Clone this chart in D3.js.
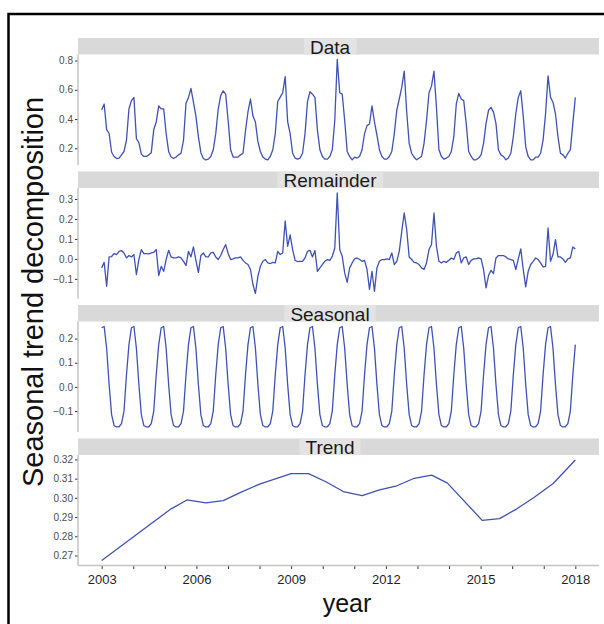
<!DOCTYPE html>
<html>
<head>
<meta charset="utf-8">
<script src="https://cdn.jsdelivr.net/npm/d3@7"></script>
<style>
  body { margin: 0; background: #fff; }
  svg { display: block; font-family: "Liberation Sans", Arial, sans-serif; }
</style>
</head>
<body>
<svg id="chart" width="604" height="624"></svg>
<script>
// monthly series, first point at 2003, last at 2018
const startYear = 2003;
const endYear = 2018;

const dataValues = [
  0.463, 0.503, 0.328, 0.301, 0.173, 0.144, 0.130, 0.133, 0.155, 0.178, 0.256, 0.470,
  0.526, 0.548, 0.267, 0.238, 0.160, 0.144, 0.144, 0.155, 0.170, 0.328, 0.380, 0.490,
  0.470, 0.470, 0.300, 0.178, 0.140, 0.130, 0.140, 0.155, 0.166, 0.256, 0.508, 0.548,
  0.609, 0.515, 0.420, 0.280, 0.170, 0.130, 0.120, 0.126, 0.144, 0.190, 0.300, 0.470,
  0.560, 0.593, 0.570, 0.390, 0.190, 0.140, 0.140, 0.140, 0.155, 0.166, 0.320, 0.450,
  0.537, 0.420, 0.380, 0.245, 0.178, 0.140, 0.126, 0.121, 0.144, 0.190, 0.300, 0.520,
  0.550, 0.580, 0.690, 0.380, 0.300, 0.166, 0.133, 0.126, 0.133, 0.166, 0.300, 0.520,
  0.587, 0.570, 0.548, 0.324, 0.190, 0.144, 0.126, 0.126, 0.144, 0.190, 0.390, 0.807,
  0.580, 0.570, 0.390, 0.178, 0.144, 0.121, 0.139, 0.133, 0.144, 0.190, 0.300, 0.355,
  0.366, 0.490, 0.380, 0.290, 0.190, 0.144, 0.126, 0.126, 0.144, 0.178, 0.300, 0.460,
  0.537, 0.616, 0.728, 0.450, 0.234, 0.166, 0.139, 0.121, 0.133, 0.144, 0.234, 0.390,
  0.580, 0.625, 0.728, 0.480, 0.190, 0.144, 0.126, 0.133, 0.144, 0.178, 0.279, 0.503,
  0.575, 0.537, 0.526, 0.370, 0.178, 0.144, 0.121, 0.121, 0.133, 0.155, 0.234, 0.370,
  0.460, 0.480, 0.447, 0.370, 0.190, 0.155, 0.144, 0.121, 0.133, 0.166, 0.279, 0.436,
  0.548, 0.593, 0.420, 0.210, 0.144, 0.121, 0.121, 0.139, 0.139, 0.166, 0.256, 0.436,
  0.695, 0.548, 0.515, 0.436, 0.279, 0.166, 0.155, 0.133, 0.166, 0.190, 0.370, 0.548
];

const remainderValues = [
  -0.045, -0.017, -0.137, 0.010, 0.012, 0.027, 0.022, 0.038, 0.042, 0.030, 0.005, 0.017,
  0.010, 0.022, -0.078, -0.003, 0.047, 0.027, 0.027, 0.025, 0.030, 0.033, 0.047, -0.083,
  -0.037, -0.062, -0.003, 0.043, 0.010, 0.005, 0.005, 0.010, 0.005, -0.012, -0.033, 0.038,
  0.010, 0.060, -0.007, -0.067, 0.017, 0.030, 0.010, 0.010, 0.030, 0.033, 0.010, -0.003,
  0.017, 0.047, 0.072, 0.027, -0.003, 0.000, 0.005, 0.005, 0.010, -0.007, -0.020, -0.028,
  -0.053, -0.128, -0.173, -0.087, -0.037, -0.012, -0.003, -0.020, -0.023, -0.017, -0.020, 0.038,
  0.022, 0.030, 0.190, 0.063, 0.120, 0.047, -0.007, -0.013, -0.012, -0.012, 0.005, 0.038,
  0.043, 0.010, 0.042, -0.062, -0.045, -0.028, -0.012, -0.003, -0.007, 0.013, 0.055, 0.330,
  0.047, 0.013, -0.070, -0.117, -0.045, -0.020, 0.000, 0.005, -0.003, -0.012, -0.007, -0.053,
  -0.153, -0.062, -0.162, -0.045, -0.012, -0.003, -0.003, 0.000, -0.003, 0.030, -0.028, -0.012,
  0.038, 0.138, 0.230, 0.147, 0.010, -0.003, -0.017, -0.020, -0.028, -0.045, -0.053, -0.020,
  0.047, 0.072, 0.230, 0.063, -0.012, -0.020, -0.012, -0.017, -0.007, 0.005, -0.003, 0.030,
  0.038, -0.020, 0.005, 0.010, -0.028, -0.007, 0.000, 0.000, 0.005, 0.000, -0.053, -0.145,
  -0.083, -0.057, -0.073, 0.005, 0.017, 0.017, 0.017, 0.010, 0.000, -0.003, -0.007, -0.053,
  0.000, 0.050, -0.053, -0.140, -0.062, -0.028, -0.012, 0.005, -0.003, -0.020, -0.040, -0.037,
  0.155, -0.012, 0.022, 0.097, 0.010, 0.010, 0.000, -0.017, 0.000, 0.005, 0.060, 0.050
];

// periodic seasonal component: one value per month of the cycle
const seasonalByMonth = [0.245, 0.250, 0.160, 0.010, -0.115, -0.160, -0.166, -0.165, -0.152, -0.100, 0.050, 0.175];

// trend vertices (year, value)
const trendYears = [2003.0, 2005.2, 2005.7, 2006.3, 2006.85, 2007.4, 2008.0, 2009.0, 2009.55, 2010.1, 2010.65, 2011.25,
  2011.8, 2012.35, 2012.9, 2013.45, 2013.95, 2015.05, 2015.6, 2016.15, 2016.7, 2017.3, 2018.0];
const trendValues = [0.2674, 0.2943, 0.2989, 0.2974, 0.2986, 0.3029, 0.3072, 0.3126, 0.3126, 0.3084, 0.3033, 0.3012,
  0.3041, 0.3063, 0.3102, 0.3118, 0.3077, 0.2883, 0.2892, 0.2943, 0.3003, 0.3075, 0.3197];

const facetNames = ["Data", "Remainder", "Seasonal", "Trend"];
const dataTicks = [0.2, 0.4, 0.6, 0.8];
const remainderTicks = [-0.1, 0.0, 0.1, 0.2, 0.3];
const seasonalTicks = [-0.1, 0.0, 0.1, 0.2];
const trendTicks = [0.27, 0.28, 0.29, 0.30, 0.31, 0.32];
const xTickYears = [2003, 2004, 2005, 2006, 2007, 2008, 2009, 2010, 2011, 2012, 2013, 2014, 2015, 2016, 2017, 2018];
const xTickLabels = ["2003", "", "", "2006", "", "", "2009", "", "", "2012", "", "", "2015", "", "", "2018"];

const xTitle = "year";
const yTitle = "Seasonal trend decomposition";

// ---- build series ----
const n = dataValues.length;
const yearOf = d3.scaleLinear().domain([0, n - 1]).range([startYear, endYear]);
const monthly = (vals) => vals.map((v, i) => ({ x: yearOf(i), y: v }));

const series = [
  { name: facetNames[0], points: monthly(dataValues), ticks: dataTicks, fmt: d3.format(".1f") },
  { name: facetNames[1], points: monthly(remainderValues), ticks: remainderTicks, fmt: d3.format(".1f") },
  { name: facetNames[2], points: monthly(dataValues.map((d, i) => seasonalByMonth[i % 12])), ticks: seasonalTicks, fmt: d3.format(".1f") },
  { name: facetNames[3], points: trendYears.map((t, i) => ({ x: t, y: trendValues[i] })), ticks: trendTicks, fmt: d3.format(".2f") }
];

// ---- layout ----
const plotLeft = 78, plotRight = 599, plotTop = 38;
const stripH = 16.5, panelH = 110.5, gap = 6.5;
const block = stripH + panelH + gap;
const lineColor = "#3f51b5";

const svg = d3.select("#chart");

// ggplot-like 5% expansion
function expand(ext) {
  const pad = (ext[1] - ext[0]) * 0.05;
  return [ext[0] - pad, ext[1] + pad];
}

const x = d3.scaleLinear()
  .domain(expand([startYear, endYear]))
  .range([plotLeft, plotRight]);

series.forEach((s, k) => {
  const stripTop = plotTop + k * block;
  const panelTop = stripTop + stripH;
  const panelBottom = panelTop + panelH;

  const y = d3.scaleLinear()
    .domain(expand(d3.extent(s.points, (d) => d.y)))
    .range([panelBottom, panelTop]);

  // strip
  svg.append("rect")
    .attr("x", plotLeft).attr("y", stripTop)
    .attr("width", plotRight - plotLeft).attr("height", stripH)
    .attr("fill", "#d9d9d9");

  const label = svg.append("text")
    .attr("x", 330).attr("y", stripTop + stripH - 1)
    .attr("text-anchor", "middle")
    .attr("font-size", 19)
    .attr("fill", "#1a1a1a")
    .text(s.name);
  const bb = label.node().getBBox();
  svg.insert("rect", () => label.node())
    .attr("x", bb.x - 6).attr("y", stripTop)
    .attr("width", bb.width + 12).attr("height", stripH)
    .attr("fill", "#e3e3e3");

  // panel
  const g = svg.append("g");

  // y axis
  const yAxis = d3.axisLeft(y).tickValues(s.ticks).tickFormat(s.fmt).tickSize(3).tickPadding(2);
  const ga = g.append("g").attr("transform", `translate(${plotLeft},0)`).call(yAxis);
  ga.select(".domain").remove();
  ga.selectAll(".tick line").attr("stroke", "#333").attr("stroke-width", 1);
  ga.selectAll(".tick text").attr("fill", "#4d4d4d").attr("font-size", 10)
    .style("font-family", "'Liberation Sans', Arial, sans-serif");

  g.append("line")
    .attr("x1", plotLeft).attr("x2", plotLeft)
    .attr("y1", panelTop).attr("y2", panelBottom)
    .attr("stroke", "#c4c4c4").attr("stroke-width", 1.5);

  // series line
  const line = d3.line().x((d) => x(d.x)).y((d) => y(d.y));
  g.append("path")
    .datum(s.points)
    .attr("d", line)
    .attr("fill", "none")
    .attr("stroke", lineColor)
    .attr("stroke-width", 1.3)
    .attr("stroke-linejoin", "round");

  // x axis only below last panel
  if (k === series.length - 1) {
    const xAxis = d3.axisBottom(x).tickValues(xTickYears)
      .tickFormat((d, i) => xTickLabels[i]).tickSize(3.5).tickPadding(6);
    const gx = g.append("g").attr("transform", `translate(0,${panelBottom})`).call(xAxis);
    gx.select(".domain").remove();
    gx.selectAll(".tick line").attr("stroke", "#333");
    gx.selectAll(".tick text").attr("fill", "#1f1f1f").attr("font-size", 13)
      .style("font-family", "'Liberation Sans', Arial, sans-serif");
    g.append("line")
      .attr("x1", plotLeft).attr("x2", plotRight)
      .attr("y1", panelBottom).attr("y2", panelBottom)
      .attr("stroke", "#c4c4c4").attr("stroke-width", 1.5);
  }
});

// axis titles
svg.append("text")
  .attr("x", 347).attr("y", 612)
  .attr("text-anchor", "middle")
  .attr("font-size", 25)
  .attr("fill", "#111")
  .text(xTitle);

svg.append("text")
  .attr("transform", "translate(43,292) rotate(-90)")
  .attr("text-anchor", "middle")
  .attr("font-size", 29)
  .attr("fill", "#111")
  .text(yTitle);

// outer frame
svg.append("rect")
  .attr("x", 8.5).attr("y", 14)
  .attr("width", 700).attr("height", 700)
  .attr("fill", "none")
  .attr("stroke", "#000")
  .attr("stroke-width", 2.5);
</script>
</body>
</html>
